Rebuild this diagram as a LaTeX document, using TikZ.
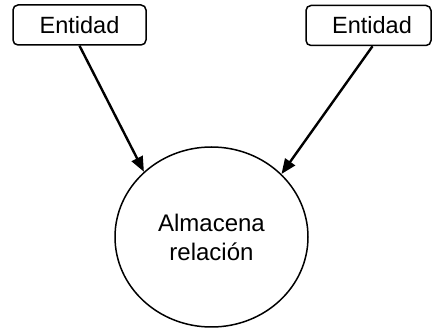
\documentclass[tikz,border=0pt]{standalone}
\usepackage{fontspec}
\setmainfont{Liberation Sans}
\usetikzlibrary{shapes.geometric,arrows.meta}
\begin{document}
\begin{tikzpicture}[x=1pt,y=-1pt,
  entbox/.style={draw, line width=1.5pt, rounded corners=5pt, inner sep=0pt,
    minimum height=40pt, font=\fontsize{23.5}{28}\selectfont},
  relcirc/.style={draw, ellipse, line width=1.5pt, minimum width=193pt, minimum height=180pt,
    inner sep=0pt, align=center, font=\fontsize{24}{29}\selectfont},
  arr/.style={line width=2.4pt, -{Triangle[length=15pt,width=12pt]}}]
\useasboundingbox (0,0) rectangle (432,328);
\node[entbox, minimum width=133pt] (e1) at (79.5,25) {Entidad};
\node[entbox, minimum width=125pt] (e2) at (368.5,25.5) {\hspace*{7pt}Entidad};
\node[relcirc] (c) at (211.5,237) {Almacena\\relación};
\draw[arr] (e1.south) -- (c.136.5);
\draw[arr] ([xshift=4pt]e2.south) -- (c.42.2);
\end{tikzpicture}
\end{document}
